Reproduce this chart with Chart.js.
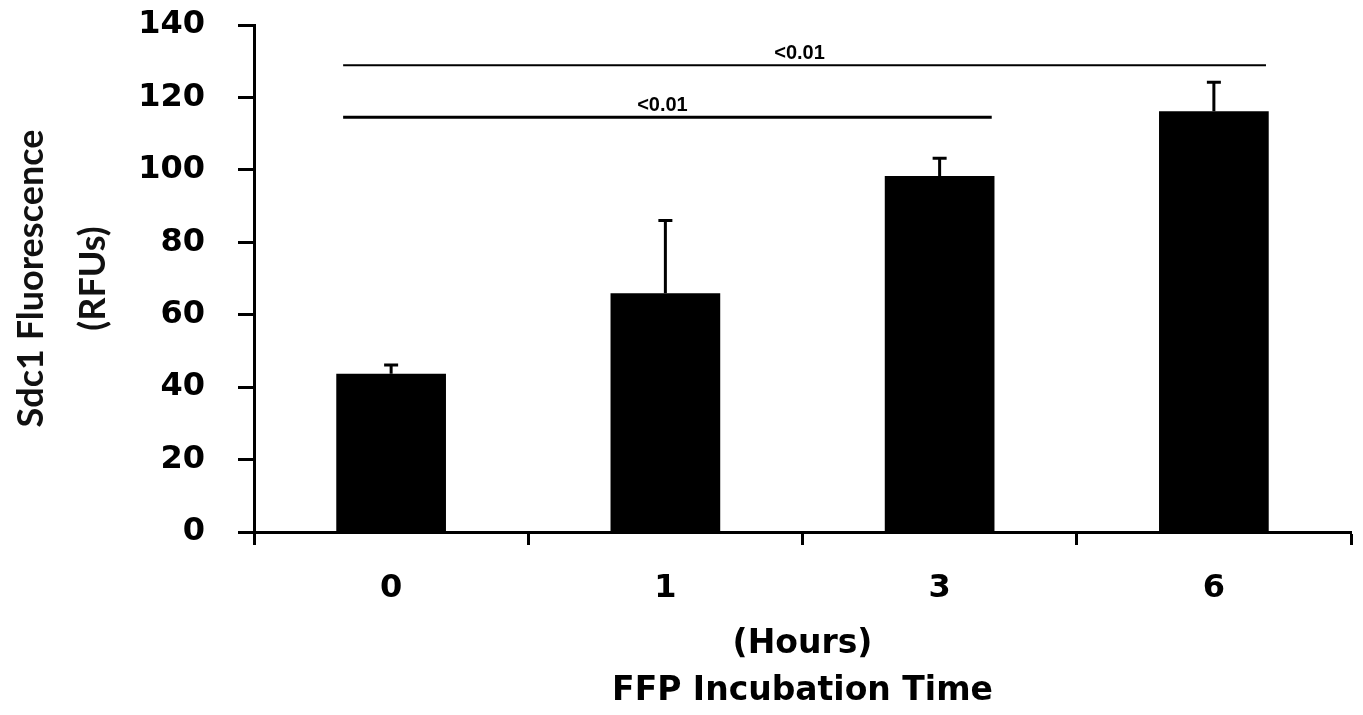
<!DOCTYPE html>
<html>
<head>
<meta charset="utf-8">
<title>Sdc1 Fluorescence vs FFP Incubation Time</title>
<script src="https://cdn.jsdelivr.net/npm/chart.js@4.4.1/dist/chart.umd.min.js"></script>
<style>
  html, body { margin: 0; padding: 0; background: #fff; }
  #wrap { width: 1363px; height: 715px; }
</style>
</head>
<body>
<div id="wrap"><canvas id="fluoChart" width="1363" height="715"></canvas></div>
<script>
// categories (hours of FFP incubation)
const hours = ['0', '1', '3', '6'];
// mean Sdc1 fluorescence (RFUs)
const meanRFU = [43.7, 65.9, 98.3, 116.2];
// upper error bar length (RFUs)
const errRFU = [2.4, 20.1, 4.9, 8.0];
// y axis tick values
const yTicks = [0, 20, 40, 60, 80, 100, 120, 140];
// significance brackets: from / to category index, height in RFUs, label
const sigFrom = [0, 0];
const sigTo = [3, 2];
const sigY = [128.9, 114.5];
const sigText = ['<0.01', '<0.01'];

// one-sided (upper) error bars on top of each bar
const errorBars = {
  id: 'errorBars',
  afterDatasetsDraw(chart) {
    const ctx = chart.ctx;
    const y = chart.scales.y;
    const meta = chart.getDatasetMeta(0);
    ctx.save();
    ctx.strokeStyle = '#000';
    ctx.lineWidth = 3;
    meta.data.forEach((bar, i) => {
      const top = y.getPixelForValue(meanRFU[i] + errRFU[i]);
      ctx.beginPath();
      ctx.moveTo(bar.x, bar.y);
      ctx.lineTo(bar.x, top);
      ctx.moveTo(bar.x - 7, top);
      ctx.lineTo(bar.x + 7, top);
      ctx.stroke();
    });
    ctx.restore();
  }
};

// horizontal p-value lines above the bars
const sigLines = {
  id: 'sigLines',
  afterDraw(chart) {
    const { ctx, scales: { x, y } } = chart;
    const step = x.getPixelForValue(1) - x.getPixelForValue(0);
    ctx.save();
    ctx.strokeStyle = '#000';
    ctx.fillStyle = '#000';
    ctx.font = 'bold 20px "Liberation Sans", Arial, sans-serif';
    ctx.textAlign = 'center';
    ctx.textBaseline = 'alphabetic';
    sigFrom.forEach((from, i) => {
      const x0 = x.getPixelForValue(from) - 0.175 * step;
      const x1 = x.getPixelForValue(sigTo[i]) + 0.19 * step;
      const yy = y.getPixelForValue(sigY[i]);
      ctx.lineWidth = i === 0 ? 2 : 3;
      ctx.beginPath();
      ctx.moveTo(x0, yy);
      ctx.lineTo(x1, yy);
      ctx.stroke();
      ctx.fillText(sigText[i], (x0 + x1) / 2 - 5, yy - 6);
    });
    ctx.restore();
  }
};

const tickFont = { family: '"DejaVu Sans", Verdana, sans-serif', weight: 'bold', size: 32 };

new Chart(document.getElementById('fluoChart').getContext('2d'), {
  type: 'bar',
  data: {
    labels: hours,
    datasets: [{
      data: meanRFU,
      backgroundColor: '#000',
      borderWidth: 0,
      categoryPercentage: 1.0,
      barPercentage: 0.4
    }]
  },
  options: {
    responsive: false,
    animation: false,
    layout: { padding: { top: 25, right: 12, bottom: 0, left: 0 } },
    plugins: { legend: { display: false }, tooltip: { enabled: false } },
    scales: {
      x: {
        grid: { drawOnChartArea: false, drawTicks: true, tickLength: 13, tickWidth: 3, tickColor: '#000', offset: true },
        border: { display: true, color: '#000', width: 3 },
        ticks: { color: '#000', font: tickFont, padding: 24 },
        title: {
          display: true,
          text: ['(Hours)', 'FFP Incubation Time'],
          color: '#000',
          font: { family: '"DejaVu Sans", Verdana, sans-serif', weight: 'bold', size: 33, lineHeight: 47 / 33 },
          padding: { top: 0, bottom: 0 }
        },
        afterFit(s) { s.height = 183; }
      },
      y: {
        min: 0,
        max: 140,
        afterBuildTicks(s) { s.ticks = yTicks.map(v => ({ value: v })); },
        grid: { drawOnChartArea: false, drawTicks: true, tickLength: 16, tickWidth: 3, tickColor: '#000' },
        border: { display: true, color: '#000', width: 3 },
        ticks: { color: '#000', font: tickFont, padding: 33 },
        title: {
          display: true,
          text: ['Sdc1 Fluorescence', '(RFUs)'],
          color: '#111',
          font: { family: 'Lato, "Open Sans", sans-serif', weight: 'bold', size: 36, lineHeight: 62 / 36 },
          padding: 0
        },
        afterFit(s) {
          s.width = 254;
          // the tick padding would otherwise push the plot area down
          s.paddingTop = 0;
          s.paddingBottom = 0;
        }
      }
    }
  },
  plugins: [errorBars, sigLines]
});
</script>
</body>
</html>
